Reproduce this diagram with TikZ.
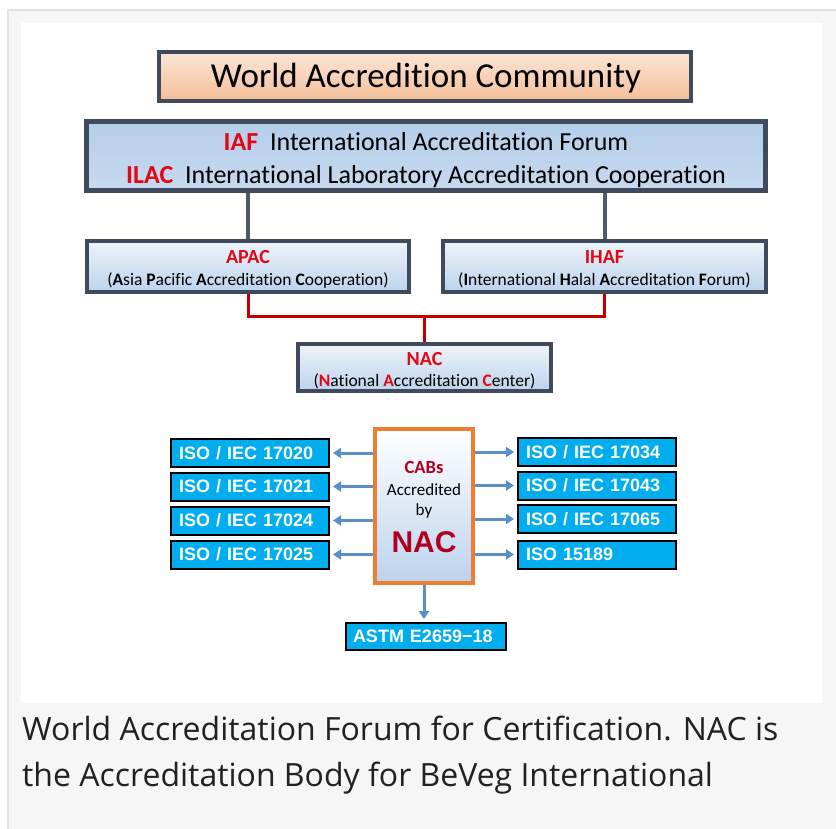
\documentclass[tikz,border=0pt]{standalone}
\usepackage{fontspec}
\setmainfont{Carlito}[Ligatures={NoCommon}]
\newfontfamily\arialf{Liberation Sans}
\newfontfamily\capf{Open Sans}
\usetikzlibrary{arrows.meta}
\definecolor{frameline}{HTML}{E4E4E4}
\definecolor{framebg}{HTML}{F6F6F6}
\definecolor{boxline}{HTML}{3F4A5C}
\definecolor{hired}{HTML}{E30613}
\definecolor{darkred}{HTML}{B00020}
\definecolor{redline}{HTML}{C00000}
\definecolor{grayline}{HTML}{4E596B}
\definecolor{isoblue}{HTML}{00AEEF}
\definecolor{arrblue}{HTML}{5B8FC9}
\definecolor{orangeb}{HTML}{ED7D31}
\definecolor{peachtop}{HTML}{FBE6D8}
\definecolor{peachbot}{HTML}{F4BD96}
\definecolor{ltop}{HTML}{B5CEE9}
\definecolor{lbot}{HTML}{C6DAEF}
\definecolor{ptop}{HTML}{EEF4FA}
\definecolor{pbot}{HTML}{BCD3EC}
\tikzset{
  titlebox/.style={draw=boxline,line width=4pt,top color=peachtop,bottom color=peachbot,inner sep=0pt,align=center},
  bigbox/.style={draw=boxline,line width=5pt,top color=ltop,bottom color=lbot,inner sep=0pt,align=center},
  orgbox/.style={draw=boxline,line width=4pt,top color=ptop,bottom color=pbot,inner sep=0pt},
  labtext/.style={text=hired,font=\bfseries\fontsize{20}{22}\selectfont,inner sep=0pt},
  subtext/.style={font=\fontsize{17.5}{20}\selectfont,inner sep=0pt},
  cabbox/.style={draw=orangeb,line width=4pt,top color=white,bottom color=pbot,inner sep=0pt,align=center},
  isobox/.style={draw=black,line width=2pt,fill=isoblue,inner sep=0pt,minimum width=158pt,minimum height=28pt,text=white,font=\arialf\bfseries\fontsize{18}{20}\selectfont,text width=142pt,align=left},
  arr/.style={draw=arrblue,line width=3pt,-{Triangle[length=8pt,width=10pt]},shorten >=3pt},
  greyconn/.style={draw=grayline,line width=4pt},
  redconn/.style={draw=redline,line width=3pt},
  captext/.style={anchor=base west,inner sep=0pt,text=black!87,font=\capf\fontsize{32}{46}\selectfont}
}
\begin{document}
\begin{tikzpicture}[x=1pt,y=-1pt]
\useasboundingbox (0,0) rectangle (836,829);
\fill[white] (0,0) rectangle (836,829);
\filldraw[fill=framebg,draw=frameline,line width=2pt] (8,10) rectangle (840,835);
\fill[white] (21,23) rectangle (822,703);

\node[titlebox,minimum width=532pt,minimum height=49pt] (title) at (425,76.5) {};
\node[font=\fontsize{35}{40}\selectfont,inner sep=0pt,anchor=base] (titletext) at (426,88) {World Accredition Community};

\node[bigbox,minimum width=679pt,minimum height=69pt] (iaf) at (426,156) {};
\node[font=\fontsize{26}{33}\selectfont,inner sep=0pt,anchor=base] (iafline) at (426,151)
  {{\color{hired}\bfseries IAF}\ \ International Accreditation Forum};
\node[font=\fontsize{26}{33}\selectfont,inner sep=0pt,anchor=base] (ilacline) at (426,184)
  {{\color{hired}\bfseries ILAC}\ \ International Laboratory Accreditation Cooperation};

\node[orgbox,minimum width=322pt,minimum height=51pt] (apac) at (248,266.5) {};
\node[labtext,anchor=base] (apacl) at (248,264) {APAC};
\node[subtext,anchor=base] (apacs) at (248,286) {(\textbf{A}sia \textbf{P}acific \textbf{A}ccreditation \textbf{C}ooperation)};

\node[orgbox,minimum width=323pt,minimum height=51pt] (ihaf) at (604.5,266.5) {};
\node[labtext,anchor=base] (ihafl) at (604.5,264) {IHAF};
\node[subtext,anchor=base] (ihafs) at (604.5,286) {(\textbf{I}nternational \textbf{H}alal \textbf{A}ccreditation \textbf{F}orum)};

\node[orgbox,minimum width=253pt,minimum height=47pt] (nac) at (424.5,367.5) {};
\node[labtext,anchor=base] (nacl) at (424.5,365) {NAC};
\node[subtext,anchor=base] (nacs) at (424.5,386) {({\color{hired}\bfseries N}ational {\color{hired}\bfseries A}ccreditation {\color{hired}\bfseries C}enter)};

\draw[greyconn] (iaf.south -| apac) -- (apac.north);
\draw[greyconn] (iaf.south -| ihaf) -- (ihaf.north);
\coordinate (rj) at (424,317);
\draw[redconn] (apac.south) |- (rj) -| (ihaf.south);
\draw[redconn] (rj) -- (rj |- nac.north);

\node[cabbox,minimum width=98pt,minimum height=154pt] (cabs) at (424,506) {};
\node[text=darkred,font=\bfseries\fontsize{18.5}{20}\selectfont] (t1) at (424,468) {CABs};
\node[font=\fontsize{17}{20}\selectfont] (t2) at (424,490) {Accredited};
\node[font=\fontsize{17}{20}\selectfont] (t3) at (424,511) {by};
\node[text=darkred,font=\arialf\bfseries\fontsize{30}{32}\selectfont] (t4) at (424,542) {NAC};

\node[isobox] (l1) at (250,453) {ISO / IEC 17020};
\node[isobox] (l2) at (250,486.5) {ISO / IEC 17021};
\node[isobox] (l3) at (250,520.5) {ISO / IEC 17024};
\node[isobox] (l4) at (250,554.5) {ISO / IEC 17025};
\node[isobox] (r1) at (597,452) {ISO / IEC 17034};
\node[isobox] (r2) at (597,485.5) {ISO / IEC 17043};
\node[isobox] (r3) at (597,519) {ISO / IEC 17065};
\node[isobox] (r4) at (597,554.5) {ISO 15189};
\node[isobox,minimum width=160pt,text width=146pt,minimum height=27pt] (astm) at (426,636.5) {ASTM E2659−18};

\foreach \n in {l1,l2,l3,l4} \draw[arr] (cabs.west |- \n.east) -- (\n.east);
\foreach \n in {r1,r2,r3,r4} \draw[arr] (cabs.east |- \n.west) -- (\n.west);
\draw[arr] (cabs.south) -- (cabs.south |- astm.north);

\node[captext] (cap1) at (22,740) {World Accreditation Forum for Certification. NAC is};
\node[captext] (cap2) at (22,786) {the Accreditation Body for BeVeg International};
\end{tikzpicture}
\end{document}
